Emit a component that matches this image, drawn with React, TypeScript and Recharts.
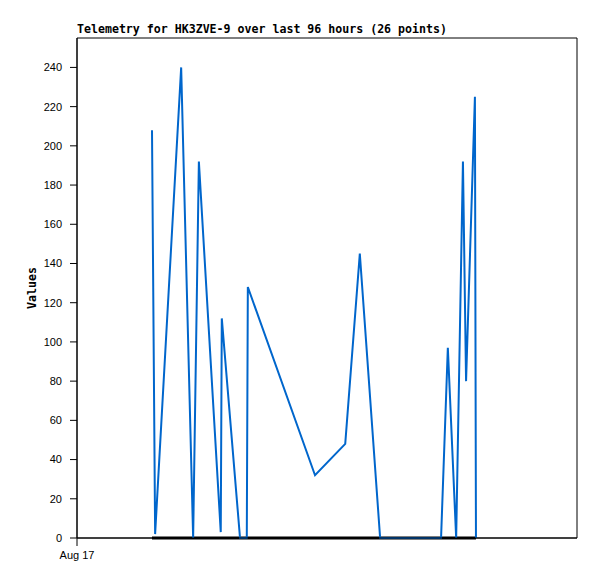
import { LineChart, Line, XAxis, YAxis, ReferenceArea } from 'recharts';

// hours since Aug 17 00:00
const hours = [
  14.4, 15.0, 20.0, 22.3, 23.4, 27.6, 27.8, 31.3, 32.6, 32.8,
  45.7, 51.5, 54.3, 58.2, 59.4, 60.7, 63.0, 65.3, 67.6, 69.9,
  71.2, 72.8, 74.1, 74.7, 76.4, 76.6,
];
const values = [
  208, 2, 240, 0, 192, 3, 112, 0, 0, 128,
  32, 48, 145, 0, 0, 0, 0, 0, 0, 0,
  97, 0, 192, 80, 225, 0,
];
const baseline = hours.map(() => 0);
const yTicks = [0, 20, 40, 60, 80, 100, 120, 140, 160, 180, 200, 220, 240];
const xTicks = [0];
const xTickLabels = ['Aug 17'];

const data = hours.map((h, i) => ({ t: h, value: values[i], zero: baseline[i] }));

export default function App() {
  const tickStyle = { fontFamily: '"Liberation Sans", Arial, sans-serif', fontSize: 11, fill: '#000' };
  return (
    <div style={{ position: 'absolute', left: 0, top: 0, width: 597, height: 579, background: '#fff' }}>
      <div
        style={{
          position: 'absolute',
          left: 77,
          top: 22,
          fontFamily: '"DejaVu Sans Mono", monospace',
          fontWeight: 'bold',
          fontSize: 11.6,
          lineHeight: '14px',
          whiteSpace: 'nowrap',
        }}
      >
        Telemetry for HK3ZVE-9 over last 96 hours (26 points)
      </div>
      <div
        style={{
          position: 'absolute',
          left: 32,
          top: 288,
          transform: 'translate(-50%, -50%) rotate(-90deg)',
          fontFamily: '"DejaVu Sans Mono", monospace',
          fontWeight: 'bold',
          fontSize: 11.6,
          whiteSpace: 'nowrap',
        }}
      >
        Values
      </div>
      <LineChart width={597} height={579} data={data} margin={{ top: 38, right: 20, left: 0, bottom: 0 }}>
        <XAxis
          dataKey="t"
          type="number"
          domain={[0, 96]}
          ticks={xTicks}
          tickFormatter={(v: number) => xTickLabels[xTicks.indexOf(v)] ?? ''}
          stroke="#000"
          tickSize={8}
          tickMargin={5}
          height={41}
          tick={tickStyle}
        />
        <YAxis
          type="number"
          domain={[0, 255]}
          ticks={yTicks}
          stroke="#000"
          width={77}
          tickSize={7}
          tickMargin={8}
          tick={tickStyle}
          interval={0}
        />
        <ReferenceArea x1={0} x2={96} y1={0} y2={255} fill="none" stroke="#000" strokeWidth={1} ifOverflow="visible" />
        <Line
          type="linear"
          dataKey="zero"
          stroke="#000"
          strokeWidth={3}
          dot={false}
          isAnimationActive={false}
        />
        <Line
          type="linear"
          dataKey="value"
          stroke="#0066cc"
          strokeWidth={2}
          dot={false}
          isAnimationActive={false}
        />
      </LineChart>
    </div>
  );
}
